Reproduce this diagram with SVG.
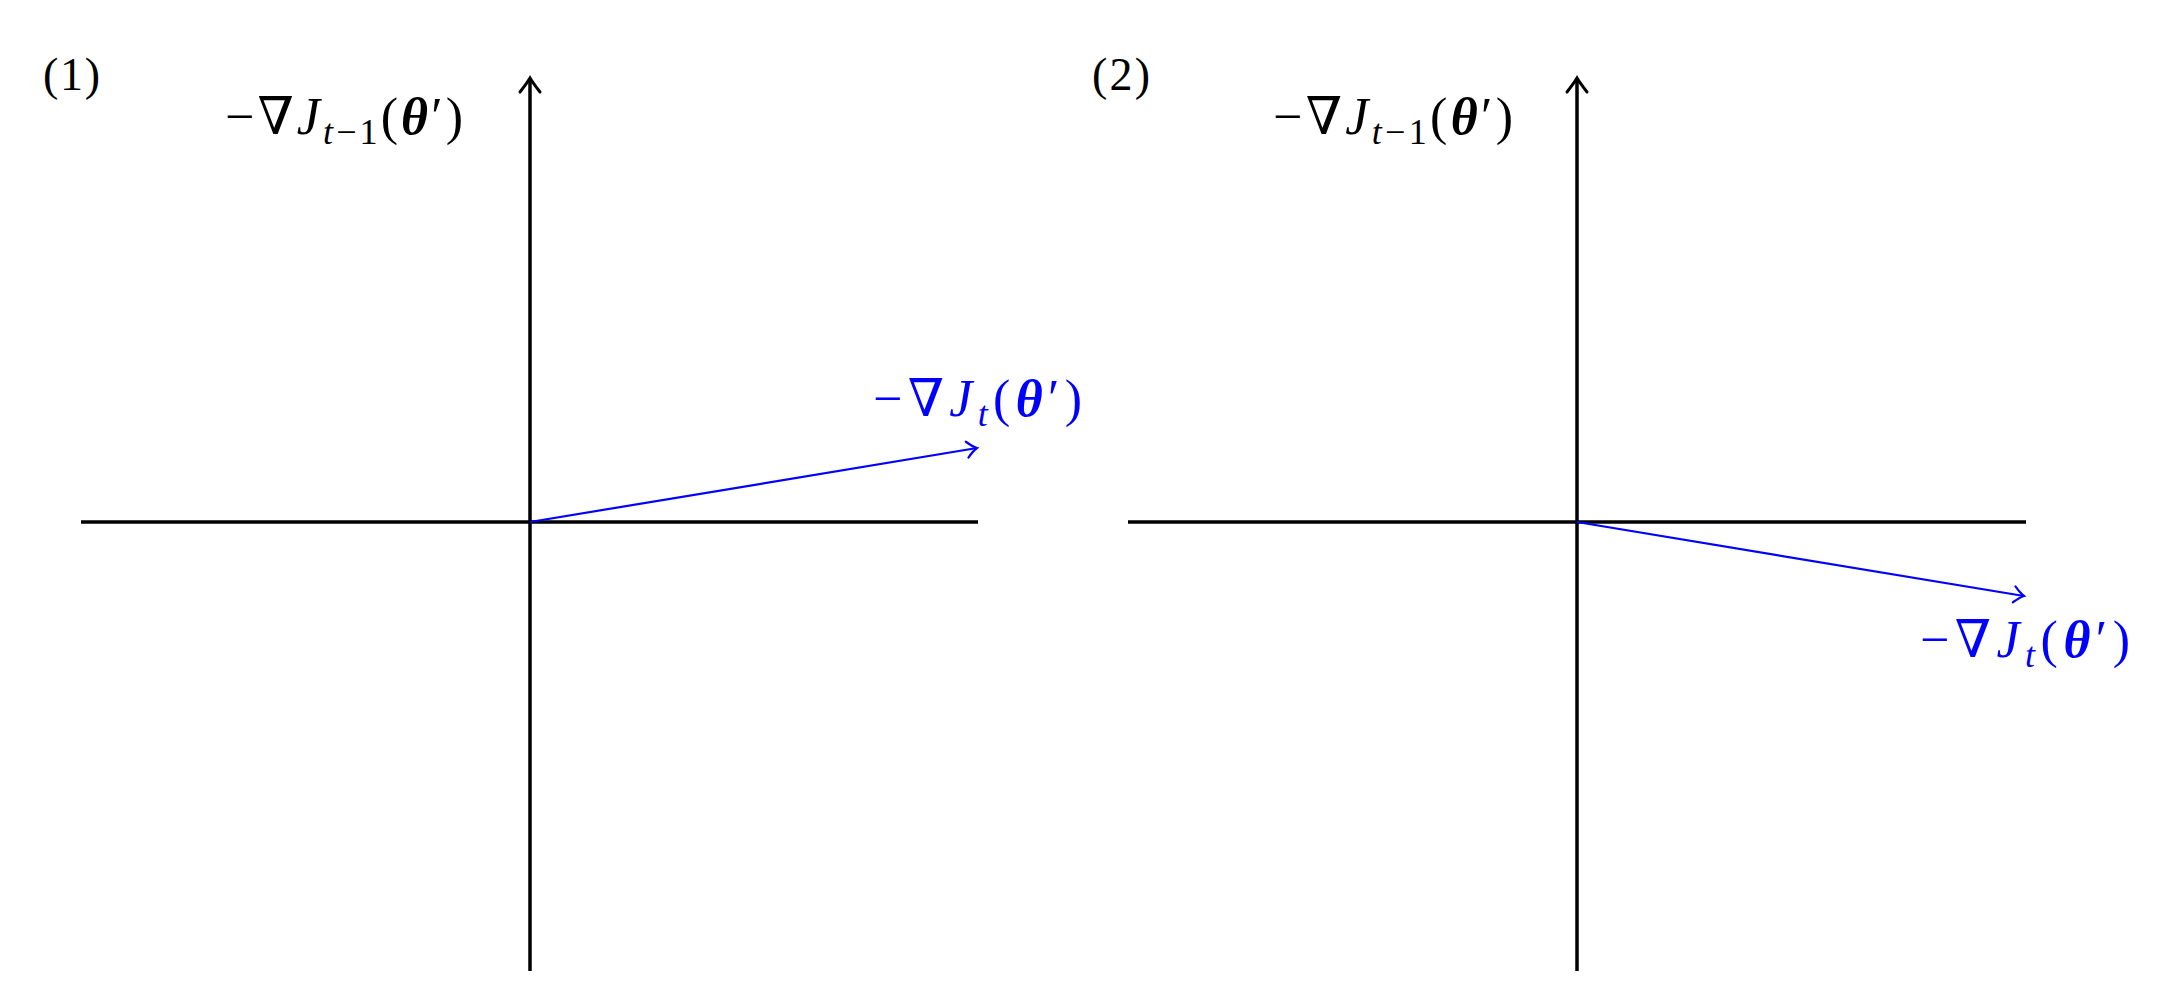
<svg xmlns="http://www.w3.org/2000/svg" width="2183" height="1003" viewBox="0 0 2183 1003">
<style>
.axis{stroke:#000;stroke-width:3.5;fill:none}
.vec{stroke:#0000ff;stroke-width:2.2;fill:none}
.lbl{font-family:"Liberation Serif","DejaVu Serif",serif;font-size:52px}
.num{font-family:"Liberation Serif","DejaVu Serif",serif;font-size:46px;fill:#000}
.it{font-style:italic}
.bi{font-style:italic;font-weight:bold}
.sub{font-size:36px}
</style>
<defs>
<marker id="ah" markerUnits="userSpaceOnUse" orient="auto" viewBox="-20 -14 24 28" refX="0" refY="0" markerWidth="24" markerHeight="28">
<path d="M -14,-10 Q -5,-3 0,0 Q -5,3 -14,10" stroke="#000" stroke-width="3" fill="none" stroke-linecap="round"/>
</marker>
<marker id="bh" markerUnits="userSpaceOnUse" orient="auto" viewBox="-16 -12 20 24" refX="0" refY="0" markerWidth="20" markerHeight="24">
<path d="M -10,-8 Q -4,-2 0,0 Q -4,2 -10,8" stroke="#0000ff" stroke-width="2.2" fill="none" stroke-linecap="round"/>
</marker>
</defs>
<rect width="2183" height="1003" fill="#fff"/>
<g id="connectors">
<line class="axis" x1="81" y1="522" x2="978" y2="522"/>
<line class="axis" x1="530" y1="971" x2="530" y2="78" marker-end="url(#ah)"/>
<line class="vec" x1="530" y1="522" x2="977" y2="448" marker-end="url(#bh)"/>
<line class="axis" x1="1128" y1="522" x2="2026" y2="522"/>
<line class="axis" x1="1577" y1="971" x2="1577" y2="78" marker-end="url(#ah)"/>
<line class="vec" x1="1577" y1="522" x2="2024" y2="596" marker-end="url(#bh)"/>
</g>
<g id="panel1">
<text class="num" x="43" y="90" textLength="57" lengthAdjust="spacing">(1)</text>
<text class="lbl" x="225" y="134" textLength="238" lengthAdjust="spacing" fill="#000">−∇<tspan class="it">J</tspan><tspan class="sub" dy="10"><tspan class="it">t</tspan>−1</tspan><tspan dy="-10">(</tspan><tspan class="bi">θ</tspan>′)</text>
<text class="lbl" x="873" y="416" textLength="209" lengthAdjust="spacing" fill="#0000ff">−∇<tspan class="it">J</tspan><tspan class="sub it" dy="10">t</tspan><tspan dy="-10">(</tspan><tspan class="bi">θ</tspan>′)</text>
</g>
<g id="panel2">
<text class="num" x="1092" y="90" textLength="58" lengthAdjust="spacing">(2)</text>
<text class="lbl" x="1273" y="134" textLength="240" lengthAdjust="spacing" fill="#000">−∇<tspan class="it">J</tspan><tspan class="sub" dy="10"><tspan class="it">t</tspan>−1</tspan><tspan dy="-10">(</tspan><tspan class="bi">θ</tspan>′)</text>
<text class="lbl" x="1920" y="657" textLength="210" lengthAdjust="spacing" fill="#0000ff">−∇<tspan class="it">J</tspan><tspan class="sub it" dy="10">t</tspan><tspan dy="-10">(</tspan><tspan class="bi">θ</tspan>′)</text>
</g>
</svg>
